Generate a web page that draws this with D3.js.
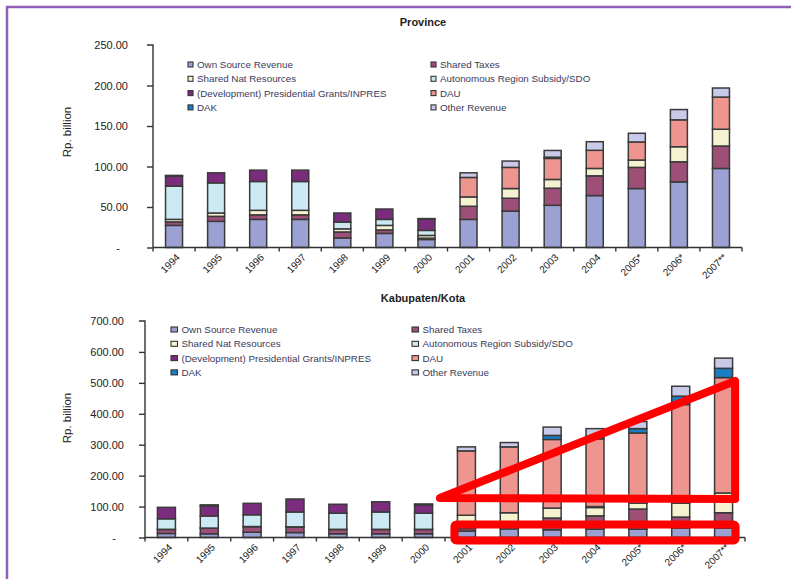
<!DOCTYPE html>
<html><head><meta charset="utf-8">
<script src="https://cdn.jsdelivr.net/npm/d3@7/dist/d3.min.js"></script>
<style>
body{margin:0;background:#fff;}
svg{display:block;font-family:"Liberation Sans",Arial,sans-serif;}
</style></head>
<body><svg id="c" width="791" height="579"></svg>
<script>
const years = ["1994","1995","1996","1997","1998","1999","2000","2001","2002","2003","2004","2005*","2006*","2007**"];
const seriesNames = ["Own Source Revenue","Shared Taxes","Shared Nat Resources","Autonomous Region Subsidy/SDO","(Development) Presidential Grants/INPRES","DAU","DAK","Other Revenue"];
const seriesColors = ["#9ba1d3","#9d4f78","#f5f2d1","#cdeaf4","#7b2c7c","#ef9590","#1b7ec2","#c9cae9"];
const yTicksProv = [0,50,100,150,200,250];
const yTicksKab = [0,100,200,300,400,500,600,700];

// Province (Rp. billion)
const provOwnSource = [27.3,32.3,34.7,34.7,11.8,17.4,9.9,34.7,45,52.1,64.1,72.8,81,97.6];
const provSharedTaxes = [4.3,6.2,5.6,5.6,7.4,4.3,1.6,16.2,15.8,21.1,24.4,26.1,24.8,27.7];
const provNatRes = [3.1,4.1,5.6,5.6,3.8,5.6,3.4,11.5,12,10.8,9.1,9,18.6,20.7];
const provSDO = [41,37.2,35.6,35.6,8.4,7.4,6.2,0,0,0,0,0,0,0];
const provINPRES = [12.3,12.4,14,14,11.2,12.8,14,0,0,0,0,0,0,0];
const provDAU = [0,0,0,0,0,0,0,24.1,26.1,26,22.4,22.4,33.2,39.7];
const provDAK = [0,0,0,0,0,0,0,0,0,1.5,0,0,0,0];
const provOther = [1,0,0,0,0,0,0.6,5.7,7.8,8.3,10.6,10.7,12.7,11.2];

// Kabupaten/Kota (Rp. billion)
const kabOwnSource = [13,12,17,16,12,12,12,21,28,25,27,27,30,30];
const kabSharedTaxes = [13,18,18,18,14,14,14,8,12,38,43,65,36,50];
const kabNatRes = [0.5,0.5,0.5,0.5,0.5,0.5,0.5,43,40,32,27,19,45,64];
const kabSDO = [34,39,38,48,52,56,52,0,0,0,3,0,0,0];
const kabINPRES = [37,32,37,42,29,33,26,0,0,0,0,0,0,0];
const kabDAU = [0,0,0,0,0,0,0,208,213,222,219,227,319,373];
const kabDAK = [0,0,0,0,0,0,0,0,0,13,8,14,27,30];
const kabOther = [0,4,0,0,0,0,4,13,14,27,25,23,32,33];

// red hand-drawn annotation on lower chart: [band units from axis start, value]
const annoTriangle = [[6.88,128],[13.77,506],[13.77,124.5]];
const annoRect = [[7.22,42],[13.78,-10]];

const svg = d3.select("#c");
// purple frame
svg.append("line").attr("x1",6).attr("x2",791).attr("y1",7).attr("y2",7).attr("stroke","#8f5fba").attr("stroke-width",2.5);
svg.append("line").attr("x1",7).attr("x2",7).attr("y1",6).attr("y2",579).attr("stroke","#8f5fba").attr("stroke-width",2.5);

function drawChart(cfg){
  const keys = seriesNames;
  const rows = years.map((yr,i)=>{
    const o={year:yr};
    keys.forEach((k,j)=>o[k]=cfg.series[j][i]);
    return o;
  });
  const stack = d3.stack().keys(keys)(rows);
  const x = d3.scaleBand().domain(years).range([cfg.x0,cfg.x1]).paddingInner(cfg.pad).paddingOuter(cfg.pad/2);
  const y = d3.scaleLinear().domain([0,cfg.max]).range([cfg.y0,cfg.yTop]);
  const g = svg.append("g");

  // title
  g.append("text").attr("x",423).attr("y",cfg.titleY).attr("text-anchor","middle")
   .attr("font-size",11).attr("font-weight","bold").attr("fill","#222").text(cfg.title);

  // bars
  stack.forEach((s,j)=>{
    g.append("g").selectAll("rect").data(s.filter(d=>d[1]-d[0]>0)).join("rect")
     .attr("x",d=>x(d.data.year)).attr("width",x.bandwidth())
     .attr("y",d=>y(d[1])).attr("height",d=>y(d[0])-y(d[1]))
     .attr("fill",seriesColors[j]).attr("stroke","#3a3a3a").attr("stroke-width",1.5);
  });

  // y axis
  const ya = d3.axisLeft(y).tickValues(cfg.ticks).tickSize(6).tickPadding(cfg.tickPad)
    .tickFormat(d=>d===0?"-":d3.format(".2f")(d));
  const yg = g.append("g").attr("transform",`translate(${cfg.x0},0)`).call(ya);
  yg.select(".domain").attr("stroke","#333").attr("stroke-width",1.4).attr("d",`M-6,${y(cfg.max)}H0V${cfg.y0}`);
  yg.selectAll(".tick line").attr("stroke","#333").attr("stroke-width",1.4);
  yg.selectAll(".tick text").attr("font-size",11).attr("fill","#222").attr("font-family","Liberation Sans, Arial, sans-serif")
    .attr("dx",d=>d===0?-8:0);
  yg.selectAll(".tick").filter(d=>d===cfg.max).select("line").remove();

  // x axis
  const xa = g.append("g");
  xa.append("line").attr("x1",cfg.x0).attr("x2",cfg.x1).attr("y1",cfg.y0).attr("y2",cfg.y0).attr("stroke","#333").attr("stroke-width",1.4);
  const edges = years.map(yr=>x(yr)-x.step()*cfg.pad/2).concat([cfg.x1]);
  xa.selectAll("line.t").data(edges).join("line").attr("class","t")
    .attr("x1",d=>d).attr("x2",d=>d).attr("y1",cfg.y0).attr("y2",cfg.y0+4).attr("stroke","#333").attr("stroke-width",1.4);
  xa.selectAll("text").data(years).join("text")
    .attr("transform",d=>`translate(${x(d)+x.bandwidth()/2+4},${cfg.y0+8}) rotate(-45)`)
    .attr("text-anchor","end").attr("dy","0.35em").attr("font-size",10).attr("fill","#222").text(d=>d);

  // y label
  g.append("text").attr("transform",`translate(${cfg.labX},${cfg.labY}) rotate(-90)`).attr("text-anchor","middle")
   .attr("font-size",11.5).attr("fill","#222").text("Rp. billion");

  // legend
  const leg = g.append("g");
  seriesNames.forEach((n,i)=>{
    const col = i%2, row = Math.floor(i/2);
    const lx = col===0?cfg.legX0:cfg.legX1, ly = cfg.legY + row*14.3;
    leg.append("rect").attr("x",lx).attr("y",ly-2.5).attr("width",cfg.sw).attr("height",5)
      .attr("fill",seriesColors[i]).attr("stroke","#333").attr("stroke-width",1.1);
    leg.append("text").attr("x",lx+cfg.sw+4).attr("y",ly).attr("dy","0.35em").attr("font-size",9.8)
      .attr("fill","#3a3a5a").text(n);
  });
  return {x,y,g};
}

drawChart({title:"Province",titleY:26,series:[provOwnSource,provSharedTaxes,provNatRes,provSDO,provINPRES,provDAU,provDAK,provOther],
  x0:153,x1:742,y0:247.5,yTop:45,max:250,ticks:yTicksProv,pad:0.596,tickPad:19,labX:71,labY:132,
  legX0:188,legX1:431,legY:64.5,sw:5});

const kab = drawChart({title:"Kabupaten/Kota",titleY:302,series:[kabOwnSource,kabSharedTaxes,kabNatRes,kabSDO,kabINPRES,kabDAU,kabDAK,kabOther],
  x0:145,x1:745,y0:537.5,yTop:321,max:700,ticks:yTicksKab,pad:0.58,tickPad:15,labX:71,labY:418,
  legX0:171,legX1:412,legY:329.5,sw:6.5});

// red annotation
const bx = u => kab.x.range()[0] + u*kab.x.step();
const ann = svg.append("g").attr("fill","none").attr("stroke","#ff0000").attr("stroke-width",8).attr("stroke-linejoin","round");
ann.append("path").attr("d", d3.line().x(p=>bx(p[0])).y(p=>kab.y(p[1])).curve(d3.curveLinearClosed)(annoTriangle));
ann.append("rect").attr("x",bx(annoRect[0][0])).attr("y",kab.y(annoRect[0][1]))
  .attr("width",bx(annoRect[1][0])-bx(annoRect[0][0])).attr("height",kab.y(annoRect[1][1])-kab.y(annoRect[0][1])).attr("rx",2);
</script></body></html>
